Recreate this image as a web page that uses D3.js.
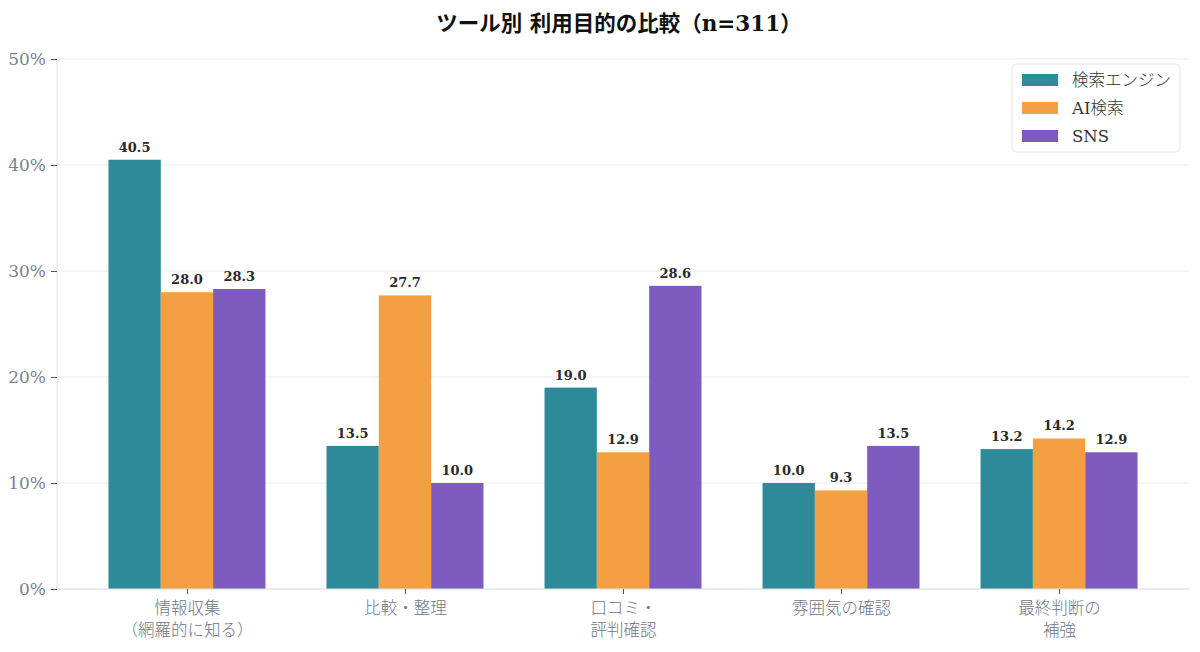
<!DOCTYPE html>
<html><head><meta charset="utf-8">
<script src="https://cdn.jsdelivr.net/npm/d3@7"></script>
<style>
body{margin:0;background:#fff;}
text{font-family:"DejaVu Serif","Noto Sans CJK JP",serif;}
</style></head>
<body>
<svg id="c" width="1200" height="652"></svg>
<script>
const categories = [["情報収集","（網羅的に知る）"],["比較・整理"],["口コミ・","評判確認"],["雰囲気の確認"],["最終判断の","補強"]];
const seriesNames = ["検索エンジン","AI検索","SNS"];
const searchEngine = [40.5,13.5,19.0,10.0,13.2];
const aiSearch = [28.0,27.7,12.9,9.3,14.2];
const sns = [28.3,10.0,28.6,13.5,12.9];
const yTicks = [0,10,20,30,40,50];
const colors = ["#2E8A99","#F4A042","#7E5CBF"];
const values = [searchEngine, aiSearch, sns];

const svg = d3.select("#c");
const mLeft = 57, mRight = 1189, mTop = 59, mBottom = 589;
const barW = 0.24;
const x = d3.scaleLinear().domain([-0.36-0.236, 4.36+0.236]).range([mLeft, mRight]);
const y = d3.scaleLinear().domain([0,50]).range([mBottom, mTop]);
const off = d3.scalePoint().domain(d3.range(3)).range([-barW, barW]);

// grid
svg.append("g").selectAll("line").data(yTicks).join("line")
  .attr("x1", mLeft).attr("x2", mRight).attr("y1", d=>y(d)).attr("y2", d=>y(d))
  .attr("stroke","#e8ecef").attr("stroke-width",1);

// bars
values.forEach((vals, si) => {
  svg.append("g").selectAll("rect").data(vals).join("rect")
    .attr("x", (d,i)=>x(i+off(si)-barW/2))
    .attr("width", (d,i)=>x(i+off(si)+barW/2)-x(i+off(si)-barW/2))
    .attr("y", d=>y(d)).attr("height", d=>y(0)-y(d))
    .attr("fill", colors[si]);
  svg.append("g").selectAll("text").data(vals).join("text")
    .attr("x", (d,i)=>x(i+off(si)))
    .attr("y", d=>y(d)-8)
    .attr("text-anchor","middle")
    .attr("font-size",13).attr("font-weight","bold").attr("fill","#2a2a2a")
    .text(d=>d.toFixed(1));
});

// y axis
const yAxis = d3.axisLeft(y).tickValues(yTicks).tickFormat(d=>d+"%").tickSize(6).tickPadding(5);
const ya = svg.append("g").attr("transform",`translate(${mLeft},0)`).call(yAxis);
ya.select(".domain").attr("stroke","#dfe3e7").attr("d",`M0,${mTop}V${mBottom}`);
ya.selectAll(".tick line").attr("stroke","#555");
ya.selectAll(".tick text").attr("font-size",17).attr("fill","#7a8290").attr("font-family","Lato, 'DejaVu Sans', sans-serif").attr("font-weight",300);

// x axis
const xAxis = d3.axisBottom(x).tickValues(d3.range(categories.length)).tickFormat("").tickSize(5);
const xa = svg.append("g").attr("transform",`translate(0,${mBottom})`).call(xAxis);
xa.select(".domain").attr("stroke","#dfe3e7").attr("d",`M${mLeft},0H${mRight}`);
xa.selectAll(".tick line").attr("stroke","#555");
xa.selectAll(".tick").each(function(d){
  const t = d3.select(this).append("text").attr("text-anchor","middle")
    .attr("font-size",16.5).attr("fill","#6f7782")
    .attr("font-family","'Noto Sans CJK JP',sans-serif").attr("font-weight",300);
  categories[d].forEach((line,li)=>{
    t.append("tspan").attr("x",0).attr("y",25+li*22).text(line);
  });
});

// title
svg.append("text").attr("x",(mLeft+mRight)/2-4).attr("y",31).attr("text-anchor","middle")
  .attr("font-size",21.5).attr("font-weight","bold").attr("fill","#111")
  .attr("font-family","'Noto Sans CJK JP','DejaVu Serif',serif")
  .text("ツール別 利用目的の比較（n=311）");

// legend
const lg = svg.append("g").attr("transform","translate(1012,64)");
lg.append("rect").attr("width",168).attr("height",88).attr("rx",4)
  .attr("fill","#fff").attr("stroke","#e3e6ea");
seriesNames.forEach((n,i)=>{
  lg.append("rect").attr("x",10).attr("y",10+i*28).attr("width",36).attr("height",12).attr("fill",colors[i]);
  lg.append("text").attr("x",60).attr("y",22+i*28).attr("font-size",16.5).attr("fill","#333")
    .attr("font-family","'Noto Sans CJK JP',sans-serif").attr("font-weight",300).text(n);
});
</script>
</body></html>
